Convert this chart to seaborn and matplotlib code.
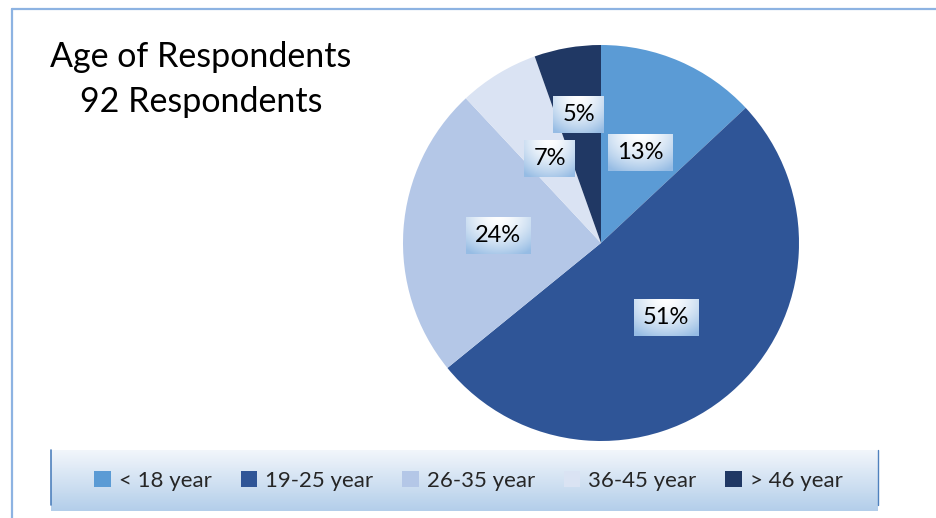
import numpy as np
import matplotlib
matplotlib.use("Agg")
import matplotlib.pyplot as plt
import seaborn as sns
from matplotlib.patches import Patch
from matplotlib.lines import Line2D
from matplotlib.colors import to_rgb

# ---- data ----
categories = ["< 18 year", "19-25 year", "26-35 year", "36-45 year", "> 46 year"]
counts = [12, 47, 22, 6, 5]
colors = ["#5B9BD5", "#2F5597", "#B4C7E7", "#DAE3F3", "#203864"]
title_lines = ["Age of Respondents", "92 Respondents"]
label_dist = [0.5, 0.5, 0.52, 0.5, 0.66]

sns.set_theme(style="white")
plt.rcParams['font.family'] = ['Lato', 'DejaVu Sans']

W, H = 936, 518
fig = plt.figure(figsize=(W / 100, H / 100), dpi=100)
fig.patch.set_facecolor("white")

# chart border (top and left)
fig.add_artist(Line2D([12 / W, 12 / W], [0, 1 - 9 / H], color="#8DB3E2", lw=1.6))
fig.add_artist(Line2D([12 / W, 1], [1 - 9 / H, 1 - 9 / H], color="#8DB3E2", lw=1.6))

# title
fig.text(201 / W, 1 - 67 / H, title_lines[0], ha="center", va="baseline", fontsize=24.5, color="black")
fig.text(201 / W, 1 - 111.5 / H, title_lines[1], ha="center", va="baseline", fontsize=24.5, color="black")

# pie
cx, cy, R = 601, 243, 198
ax = fig.add_axes([(cx - R) / W, 1 - (cy + R) / H, 2 * R / W, 2 * R / H])
wedges, texts, autotexts = ax.pie(
    counts, colors=colors, startangle=90, counterclock=False,
    autopct=lambda p: f"{p:.0f}%", pctdistance=0.5,
    wedgeprops=dict(linewidth=0, edgecolor="none"),
    textprops=dict(fontsize=17, color="black"))
ax.set_xlim(-1, 1)
ax.set_ylim(-1, 1)
ax.axis("off")

for w, t, d in zip(wedges, autotexts, label_dist):
    ang = np.deg2rad((w.theta1 + w.theta2) / 2)
    t.set_position((d * np.cos(ang), d * np.sin(ang)))
    t.set_zorder(5)

# gradient boxes behind labels
def box_grad(n=80):
    y, x = np.mgrid[0:1:n * 1j, 0:1:n * 1j]
    d = np.sqrt(((x - 0.5) / 0.8) ** 2 + (y / 1.15) ** 2)
    t = np.clip(d, 0, 1) ** 1.6
    c0 = np.array(to_rgb("#FFFFFF"))
    c1 = np.array(to_rgb("#96BCE4"))
    return c0 * (1 - t[..., None]) + c1 * t[..., None]

fig.canvas.draw()
renderer = fig.canvas.get_renderer()
inv = ax.transData.inverted()
grad = box_grad()
for t in autotexts:
    bb = t.get_window_extent(renderer)
    x0, y0 = inv.transform((bb.x0 - 9, bb.y0 - 8))
    x1, y1 = inv.transform((bb.x1 + 9, bb.y1 + 8))
    ax.imshow(grad, extent=(x0, x1, y0, y1), origin="upper", zorder=4, interpolation="bilinear")
ax.set_xlim(-1, 1)
ax.set_ylim(-1, 1)

# legend background
lx0, lx1, ly0, ly1 = 51, 878, 450, 511
lax = fig.add_axes([lx0 / W, 1 - ly1 / H, (lx1 - lx0) / W, (ly1 - ly0) / H])
v = np.linspace(0, 1, 100)[:, None]
top = np.array(to_rgb("#F2F6FB"))
bot = np.array(to_rgb("#B3CEEA"))
lg = top * (1 - v[..., None]) + bot * v[..., None]
lg = np.repeat(lg, 2, axis=1)
lax.imshow(lg, aspect="auto", extent=(0, 1, 0, 1), origin="upper", interpolation="bilinear")
lax.set_xlim(0, 1)
lax.set_ylim(0, 1)
lax.axis("off")
lax.plot([0, 0], [0.1, 1], color="#4F81BD", lw=1.2, clip_on=False)
lax.plot([1, 1], [0.1, 1], color="#4F81BD", lw=1.0, clip_on=False)

handles = [Patch(facecolor=c, edgecolor="none") for c in colors]
fig.legend(handles, categories, loc="center", bbox_to_anchor=((lx0 + lx1) / 2 / W + 4 / W, 1 - 481 / H),
           ncol=5, frameon=False, fontsize=16, handlelength=0.75, handleheight=0.75,
           handletextpad=0.35, columnspacing=1.3, borderaxespad=0)

fig.savefig("out.png", dpi=100, facecolor="white")
